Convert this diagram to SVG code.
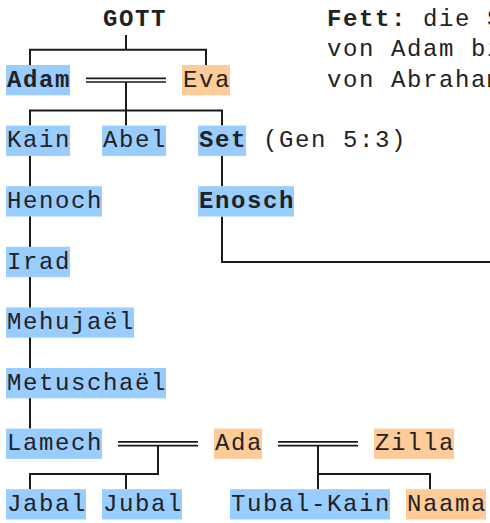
<svg xmlns="http://www.w3.org/2000/svg" width="490" height="523" viewBox="0 0 490 523">
<style>
text{font-family:"Liberation Mono","Courier New",monospace;font-size:24px;letter-spacing:1.6px;fill:#222}
.b{font-weight:bold}
.bl{fill:#99ccff}
.or{fill:#ffcc99}
.ln{stroke:#1a1a1a;stroke-width:2;fill:none}
.dl{stroke:#1a1a1a;stroke-width:1.7;fill:none}
</style>
<rect width="490" height="523" fill="#fff"/>
<g id="connectors">
<path class="ln" d="M126 35V49.85M30 65V49.85H206V65"/>
<path class="dl" d="M86 78.3H166M86 82H166"/>
<path class="ln" d="M126 82V125.6M30 125.6V110.45H222V125.6"/>
<path class="ln" d="M30 155.9V428.6"/>
<path class="ln" d="M222 155.9V186.2M222 216.5V261.95H490"/>
<path class="dl" d="M118 441.9H198M118 445.6H198"/>
<path class="ln" d="M158 445.6V474.05H30V489.2M126 474.05V489.2"/>
<path class="dl" d="M278 441.9H358M278 445.6H358"/>
<path class="ln" d="M318 445.6V489.2M318 474.05H430V489.2"/>
</g>
<g id="gott"><text class="b" x="103" y="26">GOTT</text></g>
<g id="note">
<text x="327" y="26"><tspan class="b">Fett:</tspan> die S</text>
<text x="327" y="56.4">von Adam bi</text>
<text x="327" y="86.7">von Abraham</text>
</g>
<g id="adam"><rect class="bl" x="6" y="65" width="64" height="30.3"/><text class="b" x="7" y="86.7">Adam</text></g>
<g id="eva"><rect class="or" x="182" y="65" width="48" height="30.3"/><text x="183" y="86.7">Eva</text></g>
<g id="kain"><rect class="bl" x="6" y="125.6" width="64" height="30.3"/><text x="7" y="147.3">Kain</text></g>
<g id="abel"><rect class="bl" x="102" y="125.6" width="64" height="30.3"/><text x="103" y="147.3">Abel</text></g>
<g id="set"><rect class="bl" x="198" y="125.6" width="48" height="30.3"/><text class="b" x="199" y="147.3">Set</text><text x="263" y="147.3">(Gen 5:3)</text></g>
<g id="henoch"><rect class="bl" x="6" y="186.2" width="96" height="30.3"/><text x="7" y="207.9">Henoch</text></g>
<g id="enosch"><rect class="bl" x="198" y="186.2" width="96" height="30.3"/><text class="b" x="199" y="207.9">Enosch</text></g>
<g id="irad"><rect class="bl" x="6" y="246.8" width="64" height="30.3"/><text x="7" y="268.5">Irad</text></g>
<g id="mehujael"><rect class="bl" x="6" y="307.4" width="128" height="30.3"/><text x="7" y="329.1">Mehujaël</text></g>
<g id="metuschael"><rect class="bl" x="6" y="368" width="160" height="30.3"/><text x="7" y="389.7">Metuschaël</text></g>
<g id="lamech"><rect class="bl" x="6" y="428.6" width="96" height="30.3"/><text x="7" y="450.3">Lamech</text></g>
<g id="ada"><rect class="or" x="214" y="428.6" width="48" height="30.3"/><text x="215" y="450.3">Ada</text></g>
<g id="zilla"><rect class="or" x="374" y="428.6" width="80" height="30.3"/><text x="375" y="450.3">Zilla</text></g>
<g id="jabal"><rect class="bl" x="6" y="489.2" width="80" height="30.3"/><text x="7" y="510.9">Jabal</text></g>
<g id="jubal"><rect class="bl" x="102" y="489.2" width="80" height="30.3"/><text x="103" y="510.9">Jubal</text></g>
<g id="tubalkain"><rect class="bl" x="230" y="489.2" width="160" height="30.3"/><text x="231" y="510.9">Tubal-Kain</text></g>
<g id="naama"><rect class="or" x="406" y="489.2" width="80" height="30.3"/><text x="407" y="510.9">Naama</text></g>
</svg>
